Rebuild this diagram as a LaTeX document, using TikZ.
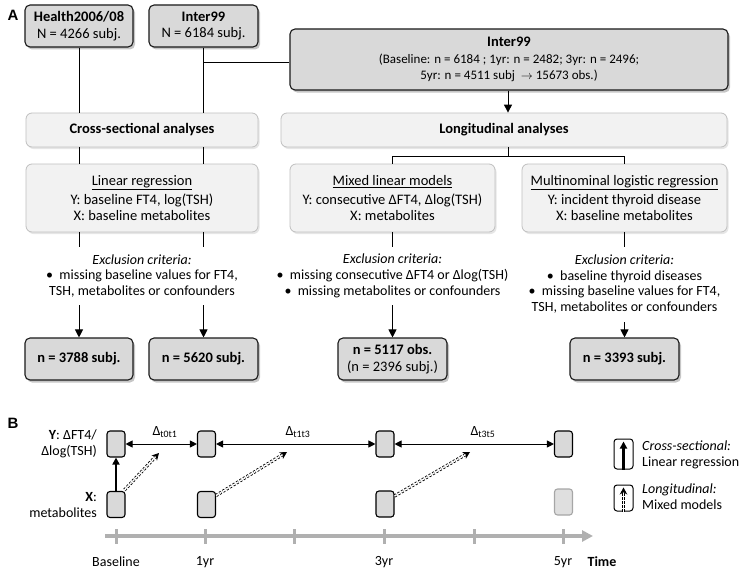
\documentclass[tikz,border=0pt]{standalone}
\usepackage{fontspec}
\setmainfont{Carlito}
\newfontfamily\arialf{Liberation Sans}
\usetikzlibrary{arrows.meta,shadows,calc}
\definecolor{dbox}{HTML}{D9D9D9}
\definecolor{lbox}{HTML}{F2F2F2}
\definecolor{lborder}{HTML}{BFBFBF}
\definecolor{tline}{HTML}{B0B0B0}
\newcommand\fsA{\fontsize{14.5}{16.5}\selectfont}
\newcommand\fsE{\fontsize{14}{15.8}\selectfont}
\newcommand\fsS{\fontsize{13}{16.5}\selectfont}
\newcommand\fsL{\fontsize{15}{18}\selectfont}
\begin{document}
\begin{tikzpicture}[x=1pt,y=-1pt,
  darkbox/.style={draw=black!90, line width=1.1pt, fill=dbox, rounded corners=5pt,
    drop shadow={shadow xshift=2pt, shadow yshift=-2.5pt, opacity=0.45},
    inner sep=0pt, align=center, font=\fsA},
  lightbox/.style={draw=lborder, line width=0.8pt, fill=lbox, rounded corners=6pt,
    drop shadow={shadow xshift=1.5pt, shadow yshift=-2pt, opacity=0.2},
    inner sep=0pt, align=center, font=\fsA},
  excl/.style={align=center, font=\fsE, inner sep=0pt},
  conn/.style={draw=black, line width=1pt},
  arr/.style={draw=black, line width=1pt, -{Triangle[length=8pt,width=8pt]}},
  ybox/.style={draw=black, line width=1.1pt, fill=dbox, rounded corners=3pt,
    minimum width=18, minimum height=26, inner sep=0pt},
  darr/.style={draw=black, line width=1pt, {Triangle[length=7pt,width=7pt]}-{Triangle[length=7pt,width=7pt]}},
  ddash/.style={draw=black, double=white, double distance=1.5pt, line width=0.85pt,
    dash pattern=on 2.2pt off 1.8pt, -{Stealth[length=7pt,width=7.5pt]}},
  tlab/.style={font=\fsE, inner sep=0pt},
  panel/.style={font=\arialf\bfseries\fsL, inner sep=0pt}
]
\useasboundingbox (0,0) rectangle (741,578);

% ---------------- Panel A ----------------
\node[panel] (pa) at (13,15) {A};

\node[darkbox, minimum width=108, minimum height=42] (h) at (79,26)
  {\textbf{Health2006/08}\\N = 4266 subj.};
\node[darkbox, minimum width=109, minimum height=42] (i1) at (203.5,26)
  {\textbf{Inter99}\\N = 6184 subj.};
\node[darkbox, minimum width=438, minimum height=61, font=\fsS] (i2) at (509,59.5)
  {{\fsA\textbf{Inter99}}\\(Baseline: n = 6184 ; 1yr: n = 2482; 3yr: n = 2496;\\5yr: n = 4511 subj \ $\rightarrow$ 15673 obs.)};

\node[lightbox, minimum width=232, minimum height=34] (cs) at (142,130)
  {\textbf{Cross-sectional analyses}};
\node[lightbox, minimum width=446, minimum height=34] (lg) at (504,130)
  {\textbf{Longitudinal analyses}};

\node[lightbox, minimum width=232, minimum height=68] (lr) at (142,198)
  {\underline{Linear regression}\\[2.5pt]Y: baseline FT4, log(TSH)\\X: baseline metabolites};
\node[lightbox, minimum width=205, minimum height=68] (ml) at (392.5,198)
  {\underline{Mixed linear models}\\[2.5pt]Y: consecutive ΔFT4, Δlog(TSH)\\X: metabolites};
\node[lightbox, minimum width=205, minimum height=68] (mn) at (624.5,198)
  {\underline{Multinominal logistic regression}\\[2.5pt]Y: incident thyroid disease\\X: baseline metabolites};

\node[excl] (e1) at (142,276)
  {\textit{Exclusion criteria:}\\•\ \ missing baseline values for FT4,\\TSH, metabolites or confounders};
\node[excl] (e2) at (392.5,276)
  {\textit{Exclusion criteria:}\\•\ \ missing consecutive ΔFT4 or Δlog(TSH)\\•\ \ missing metabolites or confounders};
\node[excl] (e3) at (624.5,284)
  {\textit{Exclusion criteria:}\\•\ \ baseline thyroid diseases\\•\ \ missing baseline values for FT4,\\TSH, metabolites or confounders};

\node[darkbox, minimum width=108, minimum height=42] (r1) at (79,359) {\textbf{n = 3788 subj.}};
\node[darkbox, minimum width=109, minimum height=42] (r2) at (203.5,359) {\textbf{n = 5620 subj.}};
\node[darkbox, minimum width=109, minimum height=42] (r3) at (392.5,359)
  {\textbf{n = 5117 obs.}\\(n = 2396 subj.)};
\node[darkbox, minimum width=109, minimum height=42] (r4) at (624.5,359) {\textbf{n = 3393 subj.}};

% connectors
\coordinate (j1) at (203.5,63);
\coordinate (a1) at (79,305);
\coordinate (a2) at (203.5,305);
\coordinate (a3) at (392.5,305);
\coordinate (a4) at (624.5,322);
\coordinate (sp) at (508,156);

\draw[conn] (h.south) -- (h.south |- cs.north);
\draw[conn] (i1.south) -- (i1.south |- cs.north);
\draw[conn] (j1) -- (j1 -| i2.west);
\draw[conn] (cs.south -| h.south) -- (lr.north -| h.south);
\draw[conn] (cs.south -| i1.south) -- (lr.north -| i1.south);
\draw[conn] (lr.south -| h.south) -- ++(0,15);
\draw[conn] (lr.south -| i1.south) -- ++(0,15);
\draw[arr] (a1) -- (r1.north);
\draw[arr] (a2) -- (r2.north);

\draw[arr] (i2.south -| sp) -- (lg.north -| sp);
\draw[conn] (lg.south -| sp) -- (sp);
\draw[conn] (ml.north) -- (ml.north |- sp) -- (mn.north |- sp) -- (mn.north);
\draw[conn] (ml.south) -- ++(0,15);
\draw[conn] (mn.south) -- ++(0,15);
\draw[arr] (a3) -- (r3.north);
\draw[arr] (a4) -- (r4.north);

% ---------------- Panel B ----------------
\node[panel] (pb) at (13,423) {B};

\node[anchor=east, align=right, font=\fsE, inner sep=0pt] (yl) at (97,444)
  {\textbf{Y}: ΔFT4/\\Δlog(TSH)};
\node[anchor=east, align=right, font=\fsE, inner sep=0pt] (xl) at (97,505)
  {\textbf{X}:\\metabolites};

\node[ybox] (y0) at (116,444) {};
\node[ybox] (y1) at (206.5,444) {};
\node[ybox] (y3) at (385,444) {};
\node[ybox] (y5) at (563.5,444) {};
\node[ybox] (x0) at (116,504.5) {};
\node[ybox] (x1) at (206.5,504.5) {};
\node[ybox] (x3) at (385,504) {};
\node[ybox, draw=gray!70, fill=gray!25] (x5) at (563.5,502) {};

\draw[darr] (y0.east) -- (y1.west);
\draw[darr] (y1.east) -- (y3.west);
\draw[darr] (y3.east) -- (y5.west);
\node[tlab] (d01) at (165,432) {Δ\textsubscript{t0t1}};
\node[tlab] (d13) at (298,432) {Δ\textsubscript{t1t3}};
\node[tlab] (d35) at (483,432) {Δ\textsubscript{t3t5}};

\draw[line width=2.2pt, -{Triangle[length=7pt,width=7pt]}] (x0.north) -- (y0.south);

\coordinate (e0) at (159,453);
\coordinate (e1c) at (287,452);
\coordinate (e3c) at (470,452);
\draw[ddash] ([xshift=-1pt,yshift=1pt]x0.north east) -- (e0);
\draw[ddash] ([yshift=9pt]x1.east) -- (e1c);
\draw[ddash] ([yshift=8pt]x3.east) -- (e3c);

% timeline
\coordinate (t0) at (105,536);
\coordinate (t1) at (593,536);
\draw[tline, line width=4pt, -{Triangle[length=11pt,width=11pt]}] (t0) -- (t1);
\foreach \xx in {116,205,294,384,474,563}
  \draw[tline, line width=3pt] (\xx,529) -- (\xx,544);

\node[tlab] (lb0) at (116,562) {Baseline};
\node[tlab] (lb1) at (205,562) {1yr};
\node[tlab] (lb3) at (384,562) {3yr};
\node[tlab] (lb5) at (563,562) {5yr};
\node[tlab, font=\fsE\bfseries] (ltime) at (602,562) {Time};

% legend
\node[draw=black, line width=1pt, fill=white, rounded corners=3pt,
  minimum width=19, minimum height=30, inner sep=0pt] (lg1) at (623.5,454) {};
\node[draw=black, line width=1pt, fill=white, rounded corners=3pt,
  minimum width=19, minimum height=26, inner sep=0pt] (lg2) at (623.5,498) {};
\draw[line width=2.2pt, -{Triangle[length=7pt,width=7pt]}] (lg1.south) -- ([yshift=-3pt]lg1.north);
\draw[ddash] (lg2.south) -- ([yshift=-3pt]lg2.north);
\node[anchor=west, align=left, font=\fsE, inner sep=0pt] (lt1) at (642,454.5)
  {\textit{Cross-sectional:}\\Linear regression};
\node[anchor=west, align=left, font=\fsE, inner sep=0pt] (lt2) at (642,497)
  {\textit{Longitudinal:}\\Mixed models};
\end{tikzpicture}
\end{document}
